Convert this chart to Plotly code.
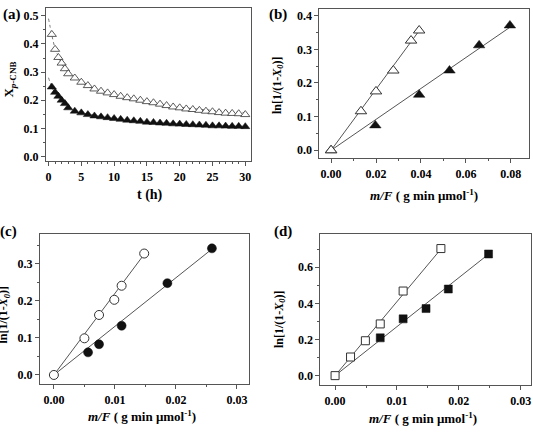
import plotly.graph_objects as go

# ---------------- data ----------------
# (a) conversion vs time
t_a = [0.5, 1, 1.5, 2, 2.5, 3] + list(range(4, 31))
xa_open = [0.434, 0.381, 0.352, 0.332, 0.312, 0.294, 0.279, 0.264, 0.252, 0.240, 0.232,
           0.226, 0.220, 0.214, 0.209, 0.205, 0.200, 0.195, 0.191, 0.186, 0.181, 0.176,
           0.173, 0.169, 0.167, 0.164, 0.161, 0.159, 0.156, 0.154, 0.153, 0.152, 0.149]
xa_fill = [0.247, 0.228, 0.214, 0.200, 0.188, 0.173, 0.161, 0.155, 0.149, 0.144, 0.141,
           0.138, 0.135, 0.132, 0.129, 0.127, 0.125, 0.122, 0.121, 0.119, 0.118, 0.116,
           0.115, 0.114, 0.113, 0.112, 0.111, 0.109, 0.109, 0.108, 0.107, 0.107, 0.106]
fit_t_a = [0, 0.5, 1, 2, 3, 5, 7, 10, 15, 20, 25, 30]
fit_open_a = [0.49, 0.432, 0.385, 0.330, 0.298, 0.262, 0.240, 0.217, 0.192, 0.175, 0.164, 0.156]
fit_fill_a = [0.280, 0.246, 0.226, 0.198, 0.178, 0.157, 0.146, 0.135, 0.123, 0.116, 0.111, 0.107]

# (b)
xb_open = [0, 0.0133, 0.0200, 0.0277, 0.0356, 0.0392]
yb_open = [0, 0.116, 0.175, 0.237, 0.326, 0.356]
xb_fill = [0, 0.0197, 0.0392, 0.0527, 0.0659, 0.0796]
yb_fill = [0, 0.074, 0.165, 0.237, 0.312, 0.371]
fitb_open_x = [0, 0.0395]
fitb_open_y = [0, 0.358]
fitb_fill_x = [0, 0.0797]
fitb_fill_y = [0, 0.366]

# (c)
xc_open = [0, 0.0050, 0.0074, 0.0099, 0.0111, 0.0148]
yc_open = [0, 0.099, 0.162, 0.203, 0.241, 0.328]
xc_fill = [0, 0.0056, 0.0074, 0.0111, 0.0186, 0.0259]
yc_fill = [0, 0.061, 0.083, 0.133, 0.248, 0.342]
fitc_open_x = [0, 0.0148]
fitc_open_y = [0, 0.326]
fitc_fill_x = [0, 0.0259]
fitc_fill_y = [0, 0.340]

# (d)
xd_open = [0, 0.0025, 0.0049, 0.0073, 0.0110, 0.0171]
yd_open = [0, 0.103, 0.193, 0.286, 0.468, 0.703]
xd_fill = [0, 0.0073, 0.0110, 0.0147, 0.0183, 0.0248]
yd_fill = [0, 0.209, 0.314, 0.371, 0.479, 0.673]
fitd_open_x = [0, 0.0171]
fitd_open_y = [0, 0.700]
fitd_fill_x = [0, 0.0248]
fitd_fill_y = [0, 0.672]

W, H = 533, 432
FONT = "Liberation Serif"
AX = "#555555"
MK = "#111111"


def px_x(a, b):
    return [a / W, b / W]


def px_y(top, bottom):
    return [1 - bottom / H, 1 - top / H]


fig = go.Figure()

# ---- panel a ----
fig.add_trace(go.Scatter(x=fit_t_a, y=fit_open_a, mode="lines", line=dict(color="#777", width=1, dash="dot", shape="spline"),
                         xaxis="x", yaxis="y", showlegend=False))
fig.add_trace(go.Scatter(x=fit_t_a, y=fit_fill_a, mode="lines", line=dict(color="#777", width=1, dash="dot", shape="spline"),
                         xaxis="x", yaxis="y", showlegend=False))
fig.add_trace(go.Scatter(x=t_a, y=xa_open, mode="markers",
                         marker=dict(symbol="triangle-up", size=8, color="white", line=dict(color="#333", width=0.8)),
                         xaxis="x", yaxis="y", showlegend=False))
fig.add_trace(go.Scatter(x=t_a, y=xa_fill, mode="markers",
                         marker=dict(symbol="triangle-up", size=8, color=MK, line=dict(color=MK, width=0.5)),
                         xaxis="x", yaxis="y", showlegend=False))

# ---- panel b ----
for fx, fy in [(fitb_open_x, fitb_open_y), (fitb_fill_x, fitb_fill_y)]:
    fig.add_trace(go.Scatter(x=fx, y=fy, mode="lines", line=dict(color="#555", width=1),
                             xaxis="x2", yaxis="y2", showlegend=False))
fig.add_trace(go.Scatter(x=xb_fill, y=yb_fill, mode="markers",
                         marker=dict(symbol="triangle-up", size=10, color=MK, line=dict(color=MK, width=0.5)),
                         xaxis="x2", yaxis="y2", showlegend=False))
fig.add_trace(go.Scatter(x=xb_open, y=yb_open, mode="markers",
                         marker=dict(symbol="triangle-up", size=10, color="white", line=dict(color="#333", width=1)),
                         xaxis="x2", yaxis="y2", showlegend=False))

# ---- panel c ----
for fx, fy in [(fitc_open_x, fitc_open_y), (fitc_fill_x, fitc_fill_y)]:
    fig.add_trace(go.Scatter(x=fx, y=fy, mode="lines", line=dict(color="#555", width=1),
                             xaxis="x3", yaxis="y3", showlegend=False))
fig.add_trace(go.Scatter(x=xc_fill[1:], y=yc_fill[1:], mode="markers",
                         marker=dict(symbol="circle", size=9, color=MK, line=dict(color=MK, width=0.5)),
                         xaxis="x3", yaxis="y3", showlegend=False))
fig.add_trace(go.Scatter(x=xc_open, y=yc_open, mode="markers",
                         marker=dict(symbol="circle", size=9, color="white", line=dict(color="#333", width=1)),
                         xaxis="x3", yaxis="y3", showlegend=False))

# ---- panel d ----
for fx, fy in [(fitd_open_x, fitd_open_y), (fitd_fill_x, fitd_fill_y)]:
    fig.add_trace(go.Scatter(x=fx, y=fy, mode="lines", line=dict(color="#555", width=1),
                             xaxis="x4", yaxis="y4", showlegend=False))
fig.add_trace(go.Scatter(x=xd_fill[1:], y=yd_fill[1:], mode="markers",
                         marker=dict(symbol="square", size=8, color=MK, line=dict(color=MK, width=0.5)),
                         xaxis="x4", yaxis="y4", showlegend=False))
fig.add_trace(go.Scatter(x=xd_open, y=yd_open, mode="markers",
                         marker=dict(symbol="square", size=8, color="white", line=dict(color="#333", width=1)),
                         xaxis="x4", yaxis="y4", showlegend=False))


def axis(domain, rng, dtick, minor, fmt, anchor):
    return dict(domain=domain, range=rng, dtick=dtick, tick0=0, tickformat=fmt, anchor=anchor,
                showline=True, linecolor=AX, linewidth=1, mirror=True,
                ticks="outside", ticklen=4, tickwidth=1, tickcolor=AX,
                minor=dict(dtick=minor, tick0=0, ticks="outside", ticklen=2, tickcolor=AX),
                showgrid=False, zeroline=False,
                tickfont=dict(family=FONT, size=12, color="black", weight="bold"))


fig.update_layout(
    width=W, height=H, margin=dict(l=0, r=0, t=0, b=0),
    paper_bgcolor="white", plot_bgcolor="white",
    xaxis=axis(px_x(46, 251), [-0.4, 30.8], 5, 1, "d", "y"),
    yaxis=axis(px_y(8, 162), [-0.017, 0.528], 0.1, 0.05, ".1f", "x"),
    xaxis2=axis(px_x(320, 530), [-0.0052, 0.0881], 0.02, 0.01, ".2f", "y2"),
    yaxis2=axis(px_y(9, 159), [-0.0237, 0.42], 0.1, 0.05, ".1f", "x2"),
    xaxis3=axis(px_x(40, 249), [-0.00229, 0.0319], 0.01, 0.005, ".2f", "y3"),
    yaxis3=axis(px_y(235, 386), [-0.025, 0.381], 0.1, 0.05, ".1f", "x3"),
    xaxis4=axis(px_x(321, 532), [-0.00237, 0.03166], 0.01, 0.005, ".2f", "y4"),
    yaxis4=axis(px_y(235, 387), [-0.053, 0.784], 0.2, 0.1, ".1f", "x4"),
)

ann = []


def label(text, x, y, size=14, angle=0):
    ann.append(dict(text=text, x=x / W, y=1 - y / H, xref="paper", yref="paper",
                    showarrow=False, textangle=angle, xanchor="center", yanchor="middle",
                    font=dict(family=FONT, size=size, color="black")))


label("<b>(a)</b>", 12, 15, 15)
label("<b>(b)</b>", 279, 15, 15)
label("<b>(c)</b>", 9, 233, 15)
label("<b>(d)</b>", 284, 233, 15)

mf = "<b><i>m/F</i> ( g min μmol<sup>-1</sup>)</b>"
yl = "<b>ln[1/(1-<i>X</i><sub><i>0</i></sub>)]</b>"
label("<b>t (h)</b>", 150, 196, 14)
label(mf, 425, 196, 13)
label(mf, 142, 418, 13)
label(mf, 424, 420, 13)
label("<b>X<sub><i>p</i>-CNB</sub></b>", 10, 80, 13, -90)
label(yl, 278, 85, 12, -90)
label(yl, 4, 316, 12, -90)
label(yl, 280, 320, 12, -90)

fig.update_layout(annotations=ann)
fig.write_html("out.html")
